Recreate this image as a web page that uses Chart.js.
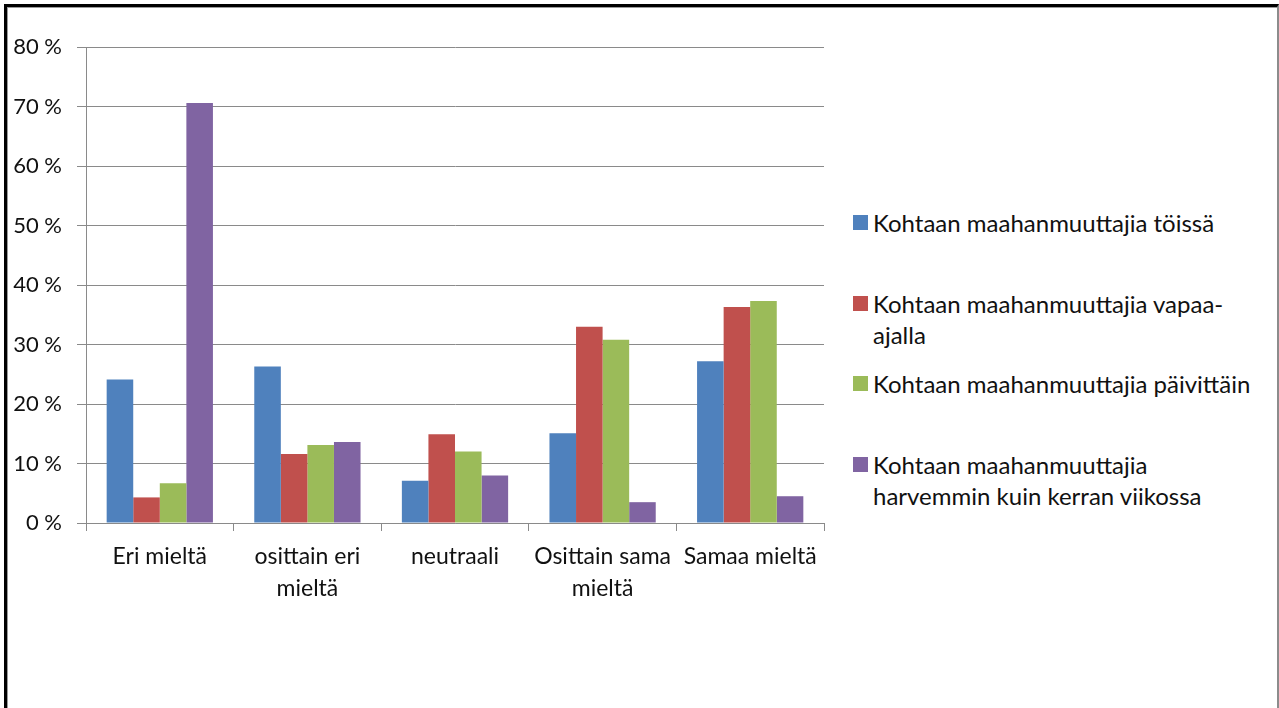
<!DOCTYPE html>
<html>
<head>
<meta charset="utf-8">
<script src="https://cdn.jsdelivr.net/npm/chart.js@4/dist/chart.umd.min.js"></script>
<style>
  html, body { margin: 0; padding: 0; background: #fff; overflow: hidden; }
  body { width: 1279px; height: 708px; position: relative; font-family: Lato, "Open Sans", sans-serif; }
  .frame {
    position: absolute; left: 4px; top: 4px; right: 0; bottom: -20px;
    border-left: 3px solid #000; border-top: 3px solid #000; border-right: 2px solid #8c8c8c;
    box-shadow: inset 1px 1px 0 #9a9a9a;
  }
  #chart { position: absolute; left: 0; top: 0; }
  .legend { position: absolute; left: 853px; top: 207px; }
  .legend .item { position: relative; height: 80.5px; padding-left: 20px; font-size: 24px; line-height: 31px; color: #111; white-space: nowrap; }
  .legend .box { position: absolute; left: 0; top: 8px; width: 15px; height: 15px; }
</style>
</head>
<body>
<div class="frame"></div>
<canvas id="chart" width="840" height="708"></canvas>
<div class="legend" id="legend"></div>

<script>
// categories (x axis), multi-line as in the original
const categories = [
  ['Eri mieltä'],
  ['osittain eri', 'mieltä'],
  ['neutraali'],
  ['Osittain sama', 'mieltä'],
  ['Samaa mieltä'],
]

// series, values in %
const seriesNames = [
  ['Kohtaan maahanmuuttajia töissä'],
  ['Kohtaan maahanmuuttajia vapaa-', 'ajalla'],
  ['Kohtaan maahanmuuttajia päivittäin'],
  ['Kohtaan maahanmuuttajia', 'harvemmin kuin kerran viikossa'],
]
const toissa      = [24.1, 26.3, 7.1, 15.1, 27.2]
const vapaaajalla = [4.3, 11.6, 14.9, 33.0, 36.3]
const paivittain  = [6.7, 13.1, 12.0, 30.8, 37.3]
const harvemmin   = [70.6, 13.6, 8.0, 3.5, 4.5]

const yMax = 80
const yStep = 10

const colors = ['#4f81bd', '#c0504d', '#9bbb59', '#8064a2']
const gridColor = '#8a8a8a'
const family = 'Lato, "Open Sans", sans-serif'

const values = [toissa, vapaaajalla, paivittain, harvemmin]

new Chart(document.getElementById('chart'), {
  type: 'bar',
  data: {
    labels: categories,
    datasets: values.map((data, i) => ({
      label: seriesNames[i].join(' '),
      data,
      backgroundColor: colors[i],
      borderWidth: 0,
      categoryPercentage: 0.72,
      barPercentage: 1.0,
    })),
  },
  options: {
    responsive: false,
    animation: false,
    layout: { padding: { top: 47, right: 16, left: 0, bottom: 0 } },
    plugins: {
      legend: { display: false },
      tooltip: { enabled: false },
    },
    scales: {
      x: {
        afterFit: (scale) => { scale.height = 185 },
        border: { color: gridColor, width: 1 },
        grid: { offset: true, drawOnChartArea: false, color: gridColor, tickLength: 8 },
        ticks: { color: '#111', font: { family, size: 23, lineHeight: '32px' }, padding: 10, maxRotation: 0, autoSkip: false },
      },
      y: {
        min: 0,
        max: yMax,
        afterFit: (scale) => { scale.width = 86 },
        border: { color: gridColor, width: 1 },
        grid: { color: gridColor, tickLength: 9 },
        ticks: {
          stepSize: yStep,
          color: '#111',
          font: { family, size: 22 },
          padding: 15,
          callback: v => v + '\u00a0%',
        },
      },
    },
  },
})

// legend as html, built from the series names and colours
const legendEl = document.getElementById('legend')
seriesNames.forEach((lines, i) => {
  const item = document.createElement('div')
  item.className = 'item'
  const box = document.createElement('span')
  box.className = 'box'
  box.style.background = colors[i]
  item.appendChild(box)
  lines.forEach(line => {
    const d = document.createElement('div')
    d.textContent = line
    item.appendChild(d)
  })
  legendEl.appendChild(item)
})
</script>
</body>
</html>
